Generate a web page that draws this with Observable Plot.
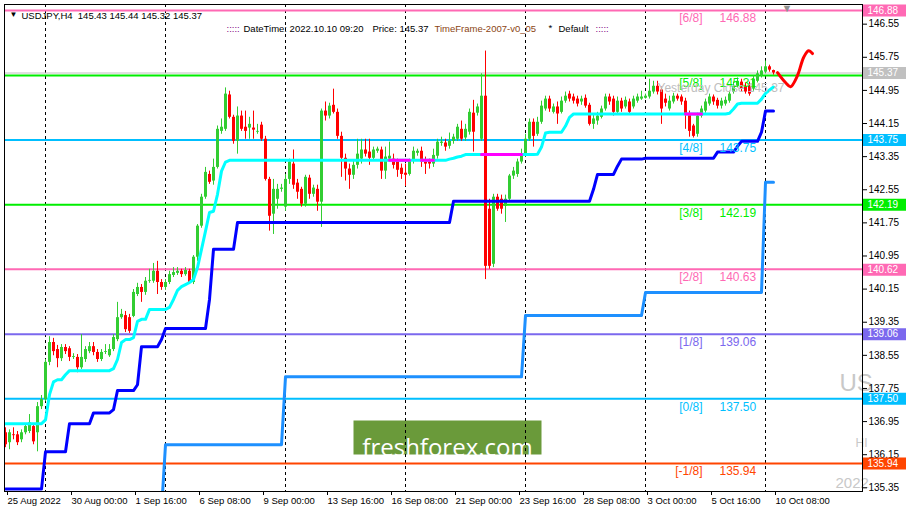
<!DOCTYPE html>
<html><head><meta charset="utf-8">
<script src="https://cdn.jsdelivr.net/npm/d3@7"></script>
<script src="https://cdn.jsdelivr.net/npm/@observablehq/plot@0.6"></script>
<style>
html,body{margin:0;padding:0;background:#fff;}
#chart{width:911px;height:514px;overflow:hidden;}
</style></head><body><div id="chart"></div>
<script>
// ---- H4 candles, bar index 0 = 25 Aug 2022 08:00 ----
const opens = [
136.68,136.44,136.63,136.63,136.51,136.68,136.71,136.83,136.68,137.31,
137.48,138.38,138.86,138.69,138.47,138.74,138.71,138.50,138.50,138.25,
138.45,138.64,138.76,138.62,138.45,138.62,138.54,138.69,138.93,139.46,
139.51,139.46,139.49,140.02,140.19,140.07,140.34,140.34,140.58,140.31,
140.19,140.31,140.48,140.53,140.58,140.50,140.58,140.31,140.92,141.67,
142.37,142.92,142.76,143.09,143.96,144.01,144.84,144.30,143.72,144.33,
144.06,144.04,144.04,143.94,144.11,143.77,142.80,141.96,142.32,142.56,
142.13,142.80,143.17,142.71,142.56,142.20,142.83,142.44,142.56,142.25,
144.45,144.33,144.59,144.42,143.84,143.31,143.05,142.90,143.14,143.29,
143.51,143.46,143.31,143.48,143.51,143.00,143.29,143.29,143.24,143.07,
142.95,142.92,143.24,143.43,143.48,143.22,143.22,143.17,143.36,143.67,
143.68,143.60,143.72,143.77,144.01,143.80,143.94,144.40,144.40,143.77,
144.81,142.08,140.75,142.37,142.32,142.15,142.32,142.88,142.92,143.22,
143.41,143.77,144.18,143.89,144.18,144.50,144.74,144.42,144.55,144.42,
144.69,144.86,144.79,144.74,144.67,144.76,144.59,144.13,144.21,144.30,
144.50,144.79,144.74,144.42,144.69,144.55,144.67,144.55,144.69,144.74,
144.76,144.79,144.91,145.05,144.96,144.74,144.50,144.67,144.81,144.79,
144.69,144.38,144.09,143.89,144.33,144.45,144.62,144.79,144.71,144.57,
144.62,144.69,144.91,145.05,145.15,145.05,145.05,144.98,145.17,145.30,
145.39,145.52,145.43];
const highs = [
136.80,136.75,136.80,136.71,136.75,136.90,137.12,136.90,137.41,137.58,
138.45,139.00,138.96,138.79,138.81,138.81,138.76,138.59,138.57,139.05,
138.76,138.86,138.86,138.69,138.69,138.81,138.81,139.05,139.83,139.66,
139.61,139.54,140.14,140.29,140.26,140.43,140.63,140.77,140.82,140.38,
140.38,140.58,140.67,140.67,140.63,140.67,140.63,140.96,141.71,142.44,
143.09,143.00,143.29,144.09,144.26,145.01,144.93,144.35,144.55,144.45,
144.45,144.30,144.45,144.13,144.18,143.84,142.85,142.80,142.68,142.68,
142.92,143.29,143.51,142.80,142.61,142.90,142.90,142.66,142.66,144.50,
144.67,144.64,144.98,144.50,143.94,143.41,143.17,143.24,143.77,143.77,
143.77,143.77,143.58,143.58,143.58,143.58,143.70,143.41,143.29,143.17,
143.17,143.29,143.58,143.53,143.58,143.34,143.29,143.53,143.77,143.82,
143.77,143.92,143.89,144.13,144.21,144.13,144.50,144.71,144.62,145.35,
145.90,142.32,142.44,142.44,142.42,142.42,142.92,143.09,143.29,143.53,
143.89,144.26,144.26,144.30,144.69,144.81,144.81,144.62,144.67,144.79,
144.91,144.93,144.86,144.81,144.81,144.84,144.64,144.35,144.42,144.57,
144.86,144.86,144.81,144.79,144.76,144.79,144.74,144.81,144.86,144.93,
144.86,145.22,145.17,145.17,145.03,144.86,144.81,144.88,144.86,144.84,
144.76,144.45,144.13,144.40,144.57,144.74,144.86,144.84,144.76,144.76,
144.79,144.93,145.15,145.25,145.22,145.13,145.15,145.30,145.42,145.52,
145.66,145.56,145.44];
const lows = [
136.32,136.27,136.51,136.37,136.44,136.63,136.66,136.39,136.22,137.24,
137.43,138.30,138.54,138.25,138.40,138.57,138.40,138.45,138.13,138.21,
138.38,138.59,138.54,138.38,138.40,138.57,138.50,138.64,138.88,139.42,
139.10,139.08,139.46,139.97,139.83,140.00,140.29,140.29,140.02,140.12,
140.12,140.26,140.43,140.48,140.43,140.46,140.26,140.26,140.82,141.62,
142.32,142.68,142.66,143.05,143.89,143.96,144.26,143.65,143.41,143.96,
143.77,143.77,143.77,143.89,143.72,142.76,141.55,141.47,142.08,142.49,
142.03,142.68,142.56,142.32,142.13,142.13,142.32,142.37,142.03,141.64,
144.21,144.26,144.38,143.77,142.85,142.76,142.56,142.80,143.05,143.17,
143.34,143.14,143.24,143.43,142.80,142.80,143.24,143.05,142.85,142.80,
142.63,142.88,143.17,143.36,143.09,142.92,143.05,143.09,143.29,143.60,
143.48,143.53,143.65,143.72,143.72,143.72,143.87,143.46,144.33,143.72,
140.38,140.63,140.67,142.03,141.96,141.76,142.25,142.80,142.85,143.17,
143.34,143.72,143.58,143.84,144.13,144.45,144.42,144.38,144.13,144.38,
144.64,144.67,144.62,144.55,144.59,144.52,144.09,144.01,144.11,144.26,
144.45,144.59,144.33,144.35,144.42,144.50,144.35,144.50,144.64,144.71,
144.74,144.74,144.86,144.84,144.13,144.55,144.45,144.62,144.69,144.59,
144.01,143.82,143.80,143.82,144.28,144.40,144.57,144.59,144.50,144.50,
144.57,144.64,144.86,145.01,144.91,144.86,144.81,144.93,145.13,145.25,
145.35,145.39,145.32];
const closes = [
136.39,136.68,136.61,136.44,136.68,136.83,136.92,136.46,137.31,137.48,
138.38,138.86,138.64,138.47,138.74,138.64,138.50,138.52,138.25,138.50,
138.69,138.76,138.62,138.45,138.62,138.64,138.69,138.98,139.46,139.54,
139.17,139.13,140.07,140.19,140.07,140.34,140.36,140.58,140.31,140.19,
140.31,140.50,140.55,140.58,140.50,140.60,140.31,140.92,141.67,142.37,
142.97,142.73,143.09,144.01,144.06,144.86,144.30,143.72,144.33,144.01,
143.96,144.13,143.99,143.96,143.77,142.80,141.91,142.56,142.56,142.59,
142.80,143.22,142.66,142.49,142.20,142.85,142.44,142.59,142.25,144.45,
144.33,144.57,144.42,143.84,143.31,143.05,142.90,143.14,143.41,143.51,
143.41,143.31,143.51,143.53,143.00,143.34,143.36,143.14,143.02,142.92,
142.90,143.24,143.48,143.48,143.22,143.17,143.17,143.38,143.70,143.70,
143.58,143.72,143.82,144.06,143.77,144.01,144.42,143.94,144.55,144.81,
140.70,140.70,142.37,142.08,142.08,142.32,142.88,143.00,143.22,143.36,
143.77,144.18,143.84,144.18,144.57,144.74,144.50,144.55,144.38,144.69,
144.81,144.74,144.69,144.62,144.74,144.57,144.13,144.26,144.33,144.50,
144.79,144.67,144.42,144.69,144.50,144.71,144.42,144.74,144.79,144.79,
144.81,144.93,145.05,144.91,144.50,144.64,144.69,144.81,144.74,144.67,
144.38,143.96,143.84,144.33,144.50,144.67,144.79,144.67,144.57,144.69,
144.71,144.86,145.05,145.17,144.98,144.91,144.86,145.22,145.35,145.42,
145.52,145.44,145.37];

// ---- indicator lines (per bar) ----
const cyanLine = [
136.90,136.90,136.90,136.90,136.90,136.90,136.90,136.90,136.90,136.90,
136.99,137.60,137.91,137.96,137.96,138.08,138.18,138.18,138.18,138.18,
138.18,138.18,138.18,138.18,138.18,138.18,138.18,138.23,138.45,138.86,
138.93,138.93,138.98,139.37,139.42,139.42,139.66,139.66,139.66,139.66,
139.66,139.71,139.90,140.12,140.21,140.26,140.31,140.38,140.67,141.11,
141.55,142.00,142.03,142.44,143.00,143.22,143.26,143.26,143.26,143.26,
143.26,143.26,143.26,143.26,143.26,143.26,143.26,143.26,143.26,143.26,
143.26,143.26,143.26,143.26,143.26,143.26,143.26,143.26,143.26,143.26,
143.26,143.26,143.26,143.26,143.26,143.26,143.26,143.26,143.26,143.26,
143.26,143.26,143.26,143.26,143.26,143.26,143.26,143.26,143.26,143.26,
143.26,143.26,143.26,143.26,143.26,143.26,143.26,143.26,143.26,143.26,
143.26,143.29,143.31,143.34,143.36,143.40,143.40,143.40,143.40,143.40,
143.40,143.40,143.40,143.40,143.40,143.40,143.40,143.40,143.40,143.40,
143.40,143.40,143.40,143.41,143.58,143.92,143.94,143.94,143.94,143.94,
144.09,144.30,144.38,144.38,144.38,144.38,144.38,144.38,144.38,144.38,
144.38,144.38,144.38,144.38,144.38,144.38,144.38,144.38,144.38,144.38,
144.38,144.38,144.38,144.38,144.38,144.38,144.38,144.38,144.38,144.38,
144.38,144.38,144.38,144.38,144.38,144.38,144.38,144.38,144.38,144.38,
144.38,144.40,144.50,144.62,144.64,144.64,144.64,144.64,144.64,144.74,
144.88,144.96,145.03];
const blueLine = [
135.32,135.32,135.32,135.32,135.32,135.32,135.32,135.32,135.32,135.32,
136.22,136.22,136.22,136.22,136.22,136.22,136.90,136.90,136.90,136.90,
136.90,136.90,137.16,137.16,137.16,137.16,137.16,137.24,137.70,137.70,
137.70,137.70,137.70,137.84,138.76,138.76,138.76,138.76,138.76,138.93,
139.20,139.20,139.20,139.20,139.20,139.20,139.20,139.20,139.20,139.20,
139.20,139.90,141.11,141.11,141.11,141.11,141.11,141.11,141.76,141.76,
141.76,141.76,141.76,141.76,141.76,141.76,141.76,141.76,141.76,141.76,
141.76,141.76,141.76,141.76,141.76,141.76,141.76,141.76,141.76,141.76,
141.76,141.76,141.76,141.76,141.76,141.76,141.76,141.76,141.76,141.76,
141.76,141.76,141.76,141.76,141.76,141.76,141.76,141.76,141.76,141.76,
141.76,141.76,141.76,141.76,141.76,141.76,141.76,141.76,141.76,141.76,
141.76,141.76,142.27,142.27,142.27,142.27,142.27,142.27,142.27,142.27,
142.27,142.27,142.27,142.27,142.27,142.27,142.27,142.27,142.27,142.27,
142.27,142.27,142.27,142.27,142.27,142.27,142.27,142.27,142.27,142.27,
142.27,142.27,142.27,142.27,142.27,142.27,142.27,142.56,142.92,142.92,
142.92,142.92,142.92,143.12,143.29,143.29,143.29,143.29,143.29,143.29,
143.31,143.31,143.31,143.31,143.31,143.31,143.31,143.31,143.31,143.31,
143.31,143.31,143.31,143.31,143.31,143.31,143.31,143.31,143.46,143.46,
143.46,143.46,143.46,143.60,143.72,143.72,143.72,143.72,143.72,143.94,
144.45,144.45,144.45];
const lightBlueLine = [
134.80,134.80,134.80,134.80,134.80,134.80,134.80,134.80,134.80,134.80,
134.80,134.80,134.80,134.80,134.80,134.80,134.80,134.80,134.80,134.80,
134.80,134.80,134.80,134.80,134.80,134.80,134.80,134.80,134.80,134.80,
134.80,134.80,134.80,134.80,134.80,134.80,134.80,134.80,134.80,134.80,
136.39,136.39,136.39,136.39,136.39,136.39,136.39,136.39,136.39,136.39,
136.39,136.39,136.39,136.39,136.39,136.39,136.39,136.39,136.39,136.39,
136.39,136.39,136.39,136.39,136.39,136.39,136.39,136.39,136.39,136.39,
138.03,138.03,138.03,138.03,138.03,138.03,138.03,138.03,138.03,138.03,
138.03,138.03,138.03,138.03,138.03,138.03,138.03,138.03,138.03,138.03,
138.03,138.03,138.03,138.03,138.03,138.03,138.03,138.03,138.03,138.03,
138.03,138.03,138.03,138.03,138.03,138.03,138.03,138.03,138.03,138.03,
138.03,138.03,138.03,138.03,138.03,138.03,138.03,138.03,138.03,138.03,
138.03,138.03,138.03,138.03,138.03,138.03,138.03,138.03,138.03,138.03,
139.51,139.51,139.51,139.51,139.51,139.51,139.51,139.51,139.51,139.51,
139.51,139.51,139.51,139.51,139.51,139.51,139.51,139.51,139.51,139.51,
139.51,139.51,139.51,139.51,139.51,139.51,139.51,139.51,139.51,139.51,
140.07,140.07,140.07,140.07,140.07,140.07,140.07,140.07,140.07,140.07,
140.07,140.07,140.07,140.07,140.07,140.07,140.07,140.07,140.07,140.07,
140.07,140.07,140.07,140.07,140.07,140.07,140.07,140.07,140.07,140.07,
142.73,142.73,142.73];
// bar ranges where the cyan line is drawn magenta
const magentaRanges = [[96,101],[104,107],[119,129],[170,174]];

// ---- forecast curve ----
const forecastBars = [193, 195, 196.25, 198, 199.5, 200.75, 201.75];
const forecastVals = [145.38, 145.14, 145.04, 145.31, 145.74, 145.91, 145.84];

// ---- Murrey math levels ----
const levelNames  = ["[6/8]","[5/8]","[4/8]","[3/8]","[2/8]","[1/8]","[0/8]","[-1/8]"];
const levelValues = [146.88, 145.31, 143.75, 142.19, 140.63, 139.06, 137.50, 135.94];
const levelColors = ["#FF69B4","#00EE00","#00BFFF","#00EE00","#FF69B4","#7B68EE","#00BFFF","#FF4500"];
const yesterdayClose = 145.37;

// price-scale tags
const tagValues = [146.88, 145.37, 143.75, 142.19, 140.62, 139.06, 137.50, 135.94];
const tagColors = ["#FF69B4","#C0C0C0","#00BFFF","#00EE00","#FF69B4","#7B68EE","#00BFFF","#FF4500"];

// axes
const yTicks = [146.55,145.75,144.95,144.15,143.35,142.55,141.75,140.95,140.15,139.35,138.55,137.75,136.95,136.15,135.35];
const xTickBars = [0,16,32,48,64,80,96,112,128,144,160,176,192];
const xTickLabels = ["25 Aug 2022","30 Aug 00:00","1 Sep 16:00","6 Sep 08:00","9 Sep 00:00","13 Sep 16:00","16 Sep 08:00","21 Sep 00:00","23 Sep 16:00","28 Sep 08:00","3 Oct 00:00","5 Oct 16:00","10 Oct 08:00"];
const weekStartBars = [10,40,70,100,130,160,190];

// header texts
const headerItems = [
  {t:"▼", x:9, y:11, c:"#000", fs:8},
  {t:"USDJPY,H4  145.43 145.44 145.32 145.37", x:21, y:12, c:"#000", fs:9.5},
  {t:":::::", x:226, y:25, c:"#800080", fs:9.5},
  {t:"DateTime: 2022.10.10 09:20", x:243, y:25, c:"#000", fs:9.5},
  {t:"Price: 145.37", x:372, y:25, c:"#000", fs:9.5},
  {t:"TimeFrame-2007-v0_05", x:434, y:25, c:"#8B4513", fs:9.5},
  {t:"*", x:548, y:24, c:"#000", fs:9.5},
  {t:"Default", x:558, y:25, c:"#000", fs:9.5},
  {t:":::::", x:595, y:25, c:"#800080", fs:9.5}
];

const BULL = "#32CD32", BEAR = "#FF0000";
const candles = closes.map((c, i) => ({i, o: opens[i], h: highs[i], l: lows[i], c, col: c >= opens[i] ? BULL : BEAR}));
const lineData = arr => arr.map((v, i) => ({i, v}));
const magentaData = cyanLine.map((v, i) => ({i, v: magentaRanges.some(([a, b]) => i >= a && i <= b) ? v : NaN}));
const levels = levelValues.map((v, k) => ({v, name: levelNames[k], c: levelColors[k]}));
const tags = tagValues.map((v, k) => ({v, c: tagColors[k]}));
const forecast = forecastBars.map((b, k) => ({i: b, v: forecastVals[k]}));

const ML = 4, MT = 4;
const F = "'Liberation Sans', Arial, sans-serif";

const marks = [
  // watermark
  Plot.frame({fill: "#6A9A3A", stroke: "none", insetLeft: 349, insetRight: 321, insetTop: 416, insetBottom: 37}),
  Plot.text(["freshforex.com"], {frameAnchor: "top-left", dx: 443, dy: 434, textAnchor: "middle", fill: "white", fontSize: 24, fontFamily: "'Open Sans', 'Liberation Sans', sans-serif"}),
  Plot.text(["US"], {frameAnchor: "top-left", dx: 835, dy: 369, textAnchor: "start", fill: "#C8C8C8", fontSize: 24}),
  Plot.text(["HI"], {frameAnchor: "top-left", dx: 851, dy: 434, textAnchor: "start", fill: "#C8C8C8", fontSize: 12}),
  Plot.text(["2022"], {frameAnchor: "top-left", dx: 831, dy: 473, textAnchor: "start", fill: "#C8C8C8", fontSize: 15}),
  // week separators
  Plot.ruleX(weekStartBars, {x: d => d, stroke: "#000", strokeWidth: 1, strokeDasharray: "3,3"}),
  // Murrey levels
  Plot.ruleY([yesterdayClose], {y: d => d, stroke: "#C0C0C0", strokeWidth: 1}),
  Plot.ruleY(levels, {y: "v", stroke: "c", strokeWidth: 2}),
  // candles
  Plot.ruleX(candles, {x: "i", y1: "l", y2: "h", stroke: "col", strokeWidth: 1}),
  Plot.ruleX(candles, {x: "i", y1: "o", y2: "c", stroke: "col", strokeWidth: 3}),
  // indicator lines
  Plot.line(lineData(lightBlueLine), {x: "i", y: "v", stroke: "#1E90FF", strokeWidth: 3, clip: true}),
  Plot.line(lineData(blueLine), {x: "i", y: "v", stroke: "#0000FF", strokeWidth: 3, clip: true}),
  Plot.line(lineData(cyanLine), {x: "i", y: "v", stroke: "#00FFFF", strokeWidth: 3, clip: true}),
  Plot.line(magentaData, {x: "i", y: "v", stroke: "#FF00FF", strokeWidth: 3, clip: true}),
  Plot.line(forecast, {x: "i", y: "v", stroke: "#FF0000", strokeWidth: 3, curve: "catmull-rom"}),
  // level captions
  Plot.text(levels, {y: "v", text: "name", frameAnchor: "left", dx: 698, dy: 8, textAnchor: "end", fill: "c", fontSize: 12}),
  Plot.text(levels, {y: "v", text: d => d.v.toFixed(2), frameAnchor: "left", dx: 715, dy: 8, textAnchor: "start", fill: "c", fontSize: 12}),
  Plot.text(["Yesterday Close 145.37"], {frameAnchor: "top-left", dx: 653, dy: 79, textAnchor: "start", fill: "#BEBEBE", fontSize: 12}),
  // frame
  Plot.frame({stroke: "#000", strokeWidth: 1}),
  // axes
  Plot.axisY(yTicks, {anchor: "right", tickSize: 4, tickPadding: 2, tickFormat: d => d.toFixed(2), fontSize: 10, label: null, stroke: "#000", fill: "#000"}),
  Plot.axisX(xTickBars, {anchor: "bottom", tickSize: 4, tickPadding: 2, tickFormat: d => xTickLabels[xTickBars.indexOf(d)], textAnchor: "start", dx: 2, fontSize: 9.5, label: null, stroke: "#000", fill: "#000"}),
  // price tags
  Plot.ruleY(tags, {y: "v", stroke: "c", strokeWidth: 12, insetLeft: 859, insetRight: -44}),
  Plot.text(tags, {y: "v", text: d => d.v.toFixed(2), frameAnchor: "right", dx: 5, textAnchor: "start", fill: "white", fontSize: 10}),
  // header
  ...headerItems.map(h => Plot.text([h.t], {frameAnchor: "top-left", dx: h.x - ML, dy: h.y - MT, textAnchor: "start", fill: h.c, fontSize: h.fs})),
  Plot.text(["▼"], {frameAnchor: "top-left", dx: 777, dy: 0, textAnchor: "start", fill: "#909090", fontSize: 11})
];

const chart = Plot.plot({
  width: 911, height: 514,
  marginLeft: ML, marginRight: 49, marginTop: MT, marginBottom: 23,
  x: {type: "linear", domain: [-0.25, 214.25]},
  y: {type: "linear", domain: [135.261, 147.025]},
  color: {type: "identity"},
  style: {fontFamily: F, fontSize: "10px", background: "white", overflow: "visible"},
  marks
});
document.getElementById("chart").appendChild(chart);
</script>
</body></html>
